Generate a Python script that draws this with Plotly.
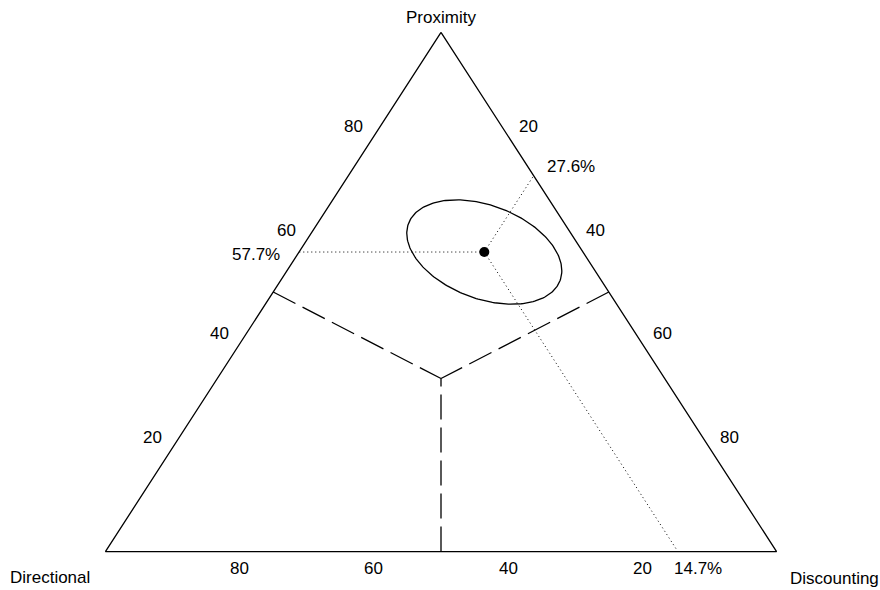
import numpy as np
import plotly.graph_objects as go

# ---------------- data ----------------
# vertex names (top, bottom-left, bottom-right)
vertex_labels = ["Proximity", "Directional", "Discounting"]

# tick labels on each edge (percent)
left_ticks = [20, 40, 60, 80]      # Proximity, along Directional-Proximity edge
right_ticks = [20, 40, 60, 80]     # Discounting, along Proximity-Discounting edge
bottom_ticks = [80, 60, 40, 20]    # Directional, along Directional-Discounting edge

# mean composition (percent)
point_proximity = 57.7
point_discounting = 27.6
point_directional = 14.7

# confidence ellipse around the mean (half extents in plot fractions, phase in degrees)
ellipse_half_width = 0.1155
ellipse_half_height = 0.1005
ellipse_phase_deg = 111.0

# region boundaries: centroid to the edge midpoints (prox, dir, disc)
centroid = (100 / 3, 100 / 3, 100 / 3)
edge_midpoints = [(50, 50, 0), (50, 0, 50), (0, 50, 50)]


def to_xy(prox, dirn, disc):
    tot = prox + dirn + disc
    return (disc + prox / 2.0) / tot, prox / tot


# ---------------- geometry of the page ----------------
W, H = 880, 590
X0, X1, YTOP, YBOT = 105, 777, 32, 552
pad = 0.02
pw = (X1 - X0) * (1 + 2 * pad)
ph = (YBOT - YTOP) * (1 + 2 * pad)
ml = X0 - (X1 - X0) * pad
mt = YTOP - (YBOT - YTOP) * pad
mr = W - ml - pw
mb = H - mt - ph

FONT = dict(family="Liberation Sans, Arial, Helvetica, sans-serif", size=17, color="black")

fig = go.Figure()

# triangle outline
tri = [(100, 0, 0), (0, 100, 0), (0, 0, 100), (100, 0, 0)]
tx, ty = zip(*[to_xy(*p) for p in tri])
fig.add_trace(go.Scatter(x=tx, y=ty, mode="lines",
                         line=dict(color="black", width=1.3), hoverinfo="skip"))

# dashed region boundaries
for m in edge_midpoints:
    a = to_xy(*m)
    b = to_xy(*centroid)
    fig.add_trace(go.Scatter(x=[a[0], b[0]], y=[a[1], b[1]], mode="lines",
                             line=dict(color="black", width=1.3, dash="25px,8px"),
                             hoverinfo="skip"))

# dotted projection lines from the mean point to the three edges
pt = (point_proximity, point_directional, point_discounting)
px, py = to_xy(*pt)
targets = [
    (point_proximity, 100 - point_proximity, 0),
    (100 - point_discounting, 0, point_discounting),
    (0, point_directional, 100 - point_directional),
]
for tgt in targets:
    qx, qy = to_xy(*tgt)
    fig.add_trace(go.Scatter(x=[px, qx], y=[py, qy], mode="lines",
                             line=dict(color="black", width=1, dash="1px,3px"),
                             hoverinfo="skip"))

# ellipse
t = np.linspace(0, 2 * np.pi, 241)
d = np.deg2rad(ellipse_phase_deg)
ex = px + ellipse_half_width * np.cos(t)
ey = py + ellipse_half_height * np.cos(t - d)
fig.add_trace(go.Scatter(x=ex, y=ey, mode="lines",
                         line=dict(color="black", width=1.3), hoverinfo="skip"))

# mean point
fig.add_trace(go.Scatter(x=[px], y=[py], mode="markers",
                         marker=dict(color="black", size=10), hoverinfo="skip"))

ann = []
# left edge ticks
for v in left_ticks:
    x, y = to_xy(v, 100 - v, 0)
    ann.append(dict(x=x, y=y, text=str(v), xanchor="right", yanchor="middle",
                    xshift=-9, yshift=10))
# right edge ticks
for v in right_ticks:
    x, y = to_xy(100 - v, 0, v)
    ann.append(dict(x=x, y=y, text=str(v), xanchor="left", yanchor="middle",
                    xshift=9, yshift=10))
# bottom edge ticks
for v in bottom_ticks:
    x, y = to_xy(0, v, 100 - v)
    ann.append(dict(x=x, y=y, text=str(v), xanchor="center", yanchor="middle",
                    yshift=-17))

# value labels of the mean point
x, y = to_xy(*targets[0])
ann.append(dict(x=x, y=y, text=f"{point_proximity}%", xanchor="right", yanchor="middle",
                xshift=-17, yshift=-2))
x, y = to_xy(*targets[1])
ann.append(dict(x=x, y=y, text=f"{point_discounting}%", xanchor="left", yanchor="middle",
                xshift=11, yshift=9))
x, y = to_xy(*targets[2])
ann.append(dict(x=x, y=y, text=f"{point_directional}%", xanchor="left", yanchor="middle",
                xshift=-6, yshift=-17))

# vertex labels
x, y = to_xy(100, 0, 0)
ann.append(dict(x=x, y=y, text=vertex_labels[0], xanchor="center", yanchor="middle", yshift=15))
x, y = to_xy(0, 100, 0)
ann.append(dict(x=x, y=y, text=vertex_labels[1], xanchor="right", yanchor="middle",
                xshift=-13, yshift=-26))
x, y = to_xy(0, 0, 100)
ann.append(dict(x=x, y=y, text=vertex_labels[2], xanchor="left", yanchor="middle",
                xshift=11, yshift=-27))

for a in ann:
    a.update(showarrow=False, font=FONT, xref="x", yref="y")

fig.update_layout(
    width=W, height=H,
    margin=dict(l=ml, r=mr, t=mt, b=mb, pad=0),
    paper_bgcolor="white", plot_bgcolor="white",
    showlegend=False,
    annotations=ann,
    xaxis=dict(range=[-pad, 1 + pad], visible=False, fixedrange=True),
    yaxis=dict(range=[-pad, 1 + pad], visible=False, fixedrange=True),
)

fig.write_html(
    "out.html",
    config={"displayModeBar": False},
    post_script="document.body.style.margin='0px';document.body.style.overflow='hidden';",
)
